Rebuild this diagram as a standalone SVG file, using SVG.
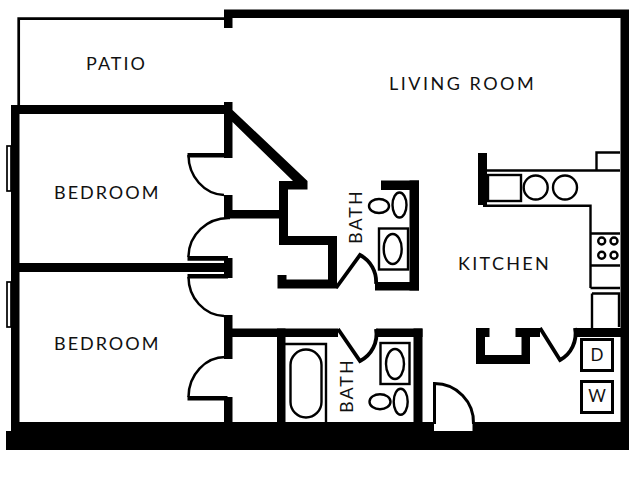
<svg xmlns="http://www.w3.org/2000/svg" width="640" height="480" viewBox="0 0 640 480">
<style>
.w{fill:#000}
.l{fill:none;stroke:#000;stroke-width:2.4}
.m{fill:none;stroke:#000;stroke-width:1.7}
.d{fill:none;stroke:#000;stroke-width:2.5}
.h{fill:none;stroke:#000;stroke-width:3.8}
.t{font-family:"Lato","Liberation Sans",sans-serif;font-size:18px;letter-spacing:2px;fill:#111}
.a{font-family:"Lato","Liberation Sans",sans-serif;font-size:17px;fill:#111;text-anchor:middle}
</style>
<rect width="640" height="480" fill="#fff"/>
<g id="walls">
<rect class="w" x="6" y="431" width="623" height="19"/>
<path class="w" d="M224 9.500H629V431H620.500V18H232.500V28H224Z"/>
<rect class="w" x="11" y="105" width="214" height="9"/>
<rect class="w" x="11" y="105" width="8.500" height="326"/>
<rect class="w" x="11" y="263" width="214" height="9"/>
<rect class="w" x="11" y="422" width="423" height="9"/>
<rect class="w" x="472.500" y="422" width="156" height="9"/>
<path class="w" d="M224 102H232.500V110L307.500 181V189.500H288V236H337V288.500H277.500V275H286.500V279.500H328V245H279V218.500H232.500V195H224V218.500H232.500V210H279V181H293L232.500 122V158H224Z"/>
<path class="w" d="M187.500 256H228V258H232.500V278H228V278.500H187.500V274H224V260.700H187.500Z"/>
<rect class="w" x="187.500" y="153" width="40" height="4.500"/>
<rect class="w" x="224" y="315" width="8.500" height="44"/>
<rect class="w" x="224" y="328.500" width="114" height="8.500"/>
<rect class="w" x="277" y="328.500" width="8.500" height="100"/>
<rect class="w" x="224" y="397" width="8.500" height="27"/>
<rect class="w" x="187.500" y="396" width="40" height="4.500"/>
<rect class="w" x="376" y="328.500" width="46.500" height="8.500"/>
<rect class="w" x="413.500" y="328.500" width="9" height="100"/>
<rect class="w" x="381" y="180.500" width="38" height="9.500"/>
<rect class="w" x="409.500" y="180.500" width="9.500" height="110"/>
<rect class="w" x="375" y="282" width="44" height="8.500"/>
<rect class="w" x="478" y="153" width="9" height="52"/>
<path class="w" d="M476 328H489.500V337H485V355H521.500V337H515.500V328H540V337H530V364H476Z"/>
<rect class="w" x="575" y="328" width="50" height="9"/>
</g>
<g id="windows">
<path class="l" style="stroke-width:2.7" d="M18.700 105V18.700H224"/>
<rect class="m" x="7" y="146" width="4" height="45"/>
<rect class="m" x="7" y="282" width="4" height="45"/>
</g>
<g id="doors">
<path class="d" d="M188.500 155A37 40 0 0 0 224 195"/>
<path class="d" d="M188.500 257A40 39 0 0 1 230 218"/>
<path class="d" d="M188.500 277A37 39 0 0 0 224 316"/>
<path class="d" d="M188.500 397A37 40 0 0 1 226 357"/>
<path class="h" d="M336 288L360 255A30 30 0 0 1 376 284"/>
<path class="h" d="M338 329L360 361A30 30 0 0 0 376 329"/>
<path class="h" d="M540 328L560 360A30 30 0 0 0 575 328"/>
<path class="h" style="stroke-width:3" d="M434.500 424V383.500A39 39 0 0 1 473.500 424"/>
</g>
<g id="kitchen">
<path class="l" d="M486 170.500H620M596.500 170.500V152.500H620M483 205.800H590.500V288M590.500 288H620M591.500 233.500H620M591.500 265.500H620"/>
<path class="l" d="M592 293.500H619V327M592 293.500V328"/>
<rect class="l" x="488" y="175" width="33" height="26"/>
<circle class="l" cx="535.700" cy="187.500" r="12"/>
<circle class="l" cx="565" cy="187.500" r="12"/>
<g>
<circle class="l" cx="601.700" cy="241" r="3.500"/><circle class="l" cx="614" cy="241" r="3.500"/><circle class="l" cx="601.700" cy="255.300" r="3.500"/><circle class="l" cx="614" cy="255.300" r="3.500"/>
</g>
<rect class="l" x="581.500" y="339.500" width="31" height="31" style="stroke-width:3"/>
<rect class="l" x="581.500" y="381.500" width="31" height="31" style="stroke-width:3"/>
</g>
<g id="bath-fixtures">
<rect class="l" x="379" y="228.500" width="29" height="41"/>
<ellipse class="l" cx="392.700" cy="249" rx="9" ry="15"/>
<ellipse class="l" cx="399.500" cy="205" rx="7" ry="12.500"/>
<ellipse class="l" cx="379" cy="206" rx="10" ry="7"/>
<rect class="l" x="380.500" y="343" width="29" height="41"/>
<ellipse class="l" cx="395" cy="364" rx="9" ry="15"/>
<ellipse class="l" cx="400.700" cy="401.700" rx="7" ry="13"/>
<ellipse class="l" cx="380" cy="401.700" rx="10.500" ry="7.500"/>
<path class="l" d="M285 344H326V422"/>
<rect class="l" x="290.500" y="349.500" width="31" height="68" rx="15.500"/>
</g>
<g id="labels">
<text class="t" x="86" y="70">PATIO</text>
<text class="t" x="389" y="90" style="letter-spacing:2.5px">LIVING ROOM</text>
<text class="t" x="54" y="199">BEDROOM</text>
<text class="t" x="54" y="350">BEDROOM</text>
<text class="t" x="458" y="270" style="letter-spacing:2.3px">KITCHEN</text>
<text class="t" transform="translate(361.500 244) rotate(-90)">BATH</text>
<text class="t" transform="translate(353 413) rotate(-90)">BATH</text>
<text class="a" x="597" y="361">D</text>
<text class="a" x="597" y="402">W</text>
</g>
</svg>
